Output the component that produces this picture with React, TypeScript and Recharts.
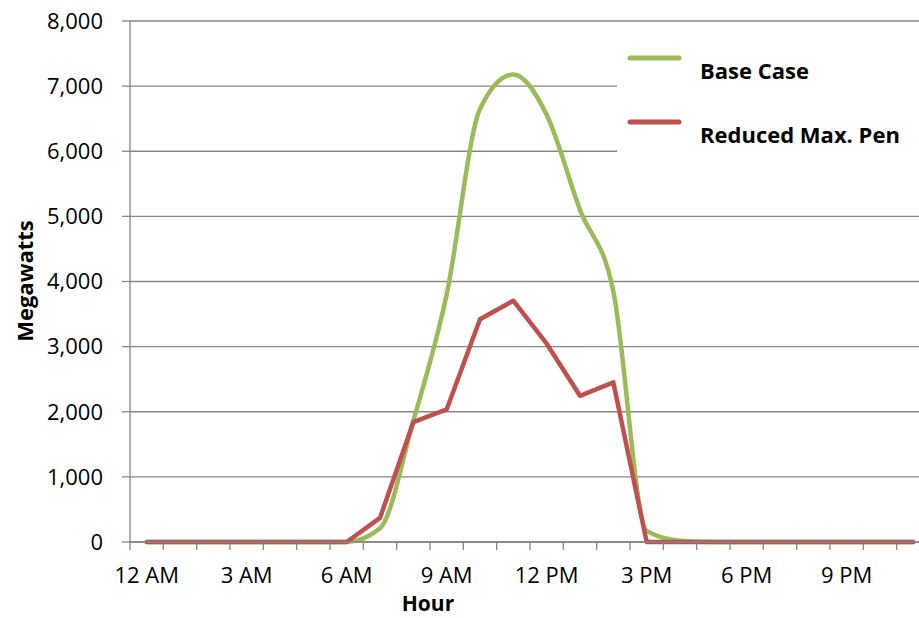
import React from 'react';
import { LineChart, Line, XAxis, YAxis, CartesianGrid, Legend, Label } from 'recharts';

const hours = [0, 1, 2, 3, 4, 5, 6, 7, 8, 9, 10, 11, 12, 13, 14, 15, 16, 17, 18, 19, 20, 21, 22, 23];
const hourLabels: Record<number, string> = {
  0: '12 AM', 3: '3 AM', 6: '6 AM', 9: '9 AM', 12: '12 PM', 15: '3 PM', 18: '6 PM', 21: '9 PM',
};
const baseCase = [0, 0, 0, 0, 0, 0, 0, 210, 1860, 3800, 6650, 7180, 6560, 5100, 3850, 170, 20, 0, 0, 0, 0, 0, 0, 0];
const reducedMaxPen = [0, 0, 0, 0, 0, 0, 0, 370, 1840, 2035, 3420, 3705, 3045, 2245, 2450, 0, 0, 0, 0, 0, 0, 0, 0, 0];
const yTicks = [0, 1000, 2000, 3000, 4000, 5000, 6000, 7000, 8000];

const data = hours.map((h, i) => ({ hour: h, base: baseCase[i], reduced: reducedMaxPen[i] }));
// tick positions: category boundaries (for tick marks) and centers (for labels)
const xTicks: number[] = [];
hours.forEach((h) => { xTicks.push(h - 0.5); xTicks.push(h); });
xTicks.push(hours[hours.length - 1] + 0.5);

const FONT = '"Open Sans", sans-serif';
const AXIS = '#868686';

const XTick = (props: any) => {
  const { x, y, payload } = props;
  const v = payload.value as number;
  if (!Number.isInteger(v)) {
    return <line x1={x} y1={y} x2={x} y2={y + 8} stroke={AXIS} strokeWidth={1.3} />;
  }
  const label = hourLabels[v];
  if (!label) return null;
  return (
    <text x={x} y={y + 41} textAnchor="middle" fontFamily={FONT} fontSize={22} fill="#000">
      {label}
    </text>
  );
};

const LegendContent = (props: any) => {
  const payload = props.payload || [];
  return (
    <svg width={302} height={160}>
      {payload.map((p: any, i: number) => (
        <g key={i}>
          <line x1={13} x2={62} y1={30 + i * 64} y2={30 + i * 64} stroke={p.color} strokeWidth={5} strokeLinecap="round" />
          <text x={83} y={51 + i * 64} fontFamily={FONT} fontWeight="bold" fontSize={22} fill="#000">
            {p.value}
          </text>
        </g>
      ))}
    </svg>
  );
};

export default function App() {
  return (
    <div style={{ position: 'absolute', left: 0, top: 0, width: 919, height: 618, overflow: 'hidden', background: '#fff' }}>
      <LineChart width={930} height={618} data={data} margin={{ top: 21, right: 0, left: 0, bottom: 0 }}>
        <CartesianGrid vertical={false} stroke={AXIS} strokeWidth={1.3} />
        <XAxis
          dataKey="hour"
          type="number"
          domain={[-0.5, 23.5]}
          ticks={xTicks}
          interval={0}
          height={76}
          tickLine={false}
          tickSize={0}
          tickMargin={0}
          tick={<XTick />}
          axisLine={{ stroke: AXIS, strokeWidth: 1.3 }}
        >
          <Label
            content={() => (
              <text x={428} y={611} textAnchor="middle" fontFamily={FONT} fontWeight="bold" fontSize={21} fill="#000">
                Hour
              </text>
            )}
          />
        </XAxis>
        <YAxis
          width={130}
          domain={[0, 8000]}
          ticks={yTicks}
          interval={0}
          tickSize={8}
          tickMargin={19}
          tickFormatter={(v: number) => v.toLocaleString('en-US')}
          tick={{ fontFamily: FONT, fontSize: 22, fill: '#000' }}
          tickLine={{ stroke: AXIS, strokeWidth: 1.3 }}
          axisLine={{ stroke: AXIS, strokeWidth: 1.3 }}
        >
          <Label
            content={() => (
              <text
                x={33}
                y={281}
                transform="rotate(-90 33 281)"
                textAnchor="middle"
                fontFamily={FONT}
                fontWeight="bold"
                fontSize={22}
                fill="#000"
              >
                Megawatts
              </text>
            )}
          />
        </YAxis>
        <Legend
          layout="vertical"
          align="center"
          verticalAlign="middle"
          content={<LegendContent />}
          wrapperStyle={{ left: 617, top: 28, width: 302, height: 160, background: '#fff' }}
        />
        <Line
          type="monotone"
          dataKey="base"
          name="Base Case"
          stroke="#9BBB59"
          strokeWidth={4.5}
          dot={false}
          activeDot={false}
          isAnimationActive={false}
        />
        <Line
          type="linear"
          dataKey="reduced"
          name="Reduced Max. Pen"
          stroke="#C0504D"
          strokeWidth={4.5}
          strokeLinejoin="round"
          strokeLinecap="round"
          dot={false}
          activeDot={false}
          isAnimationActive={false}
        />
      </LineChart>
    </div>
  );
}
